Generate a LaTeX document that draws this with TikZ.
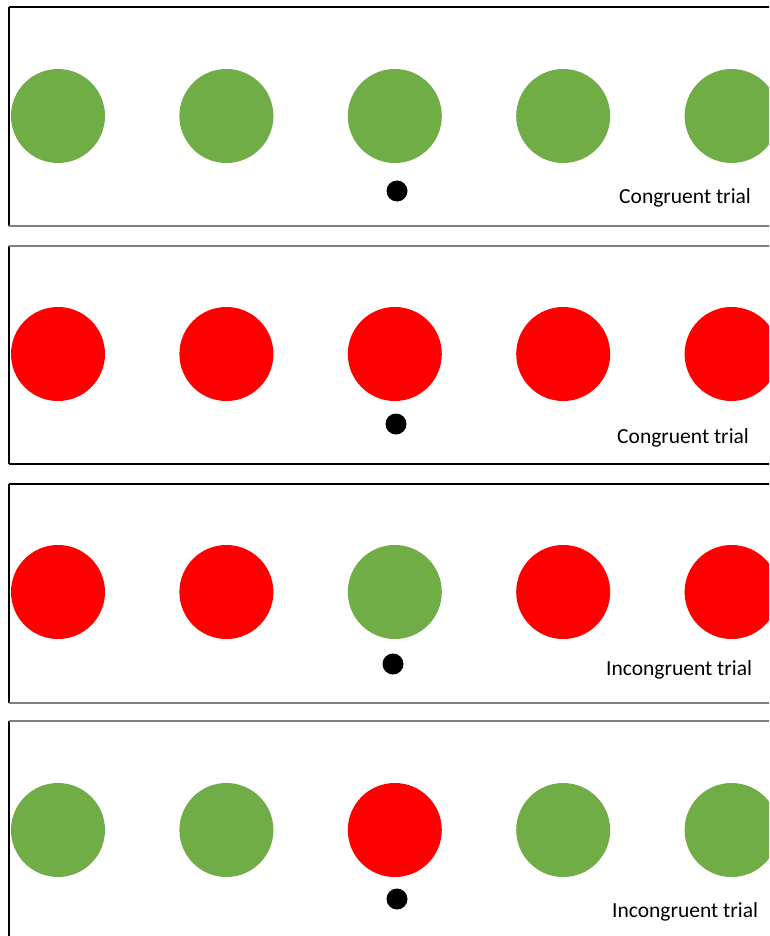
\documentclass[tikz,border=0pt]{standalone}
\usepackage{fontspec}
\setmainfont{Carlito}
\usetikzlibrary{positioning}
\definecolor{clrgreen}{HTML}{70AD47}
\definecolor{clrred}{HTML}{FF0000}
\definecolor{clrframe}{HTML}{7F7F7F}
\begin{document}
\begin{tikzpicture}[
    x=1pt, y=-1pt,
    disc/.style={circle, inner sep=0, minimum size=94pt},
    fixdot/.style={circle, fill=black, inner sep=0, minimum size=21pt},
    triallabel/.style={anchor=base west, inner sep=0, font=\fontsize{21.5}{26}\selectfont},
    frameline/.style={line width=1.3pt, color=black},
    frameshade/.style={line width=1.3pt, color=clrframe},
]
\useasboundingbox (0,0) rectangle (769,936);
\fill[white] (0,0) rectangle (769,936);
\clip (0,0) rectangle (769,936);
% panel 1
\draw[frameline] (9,7) -- (9,226);
\draw[frameline] (9,7) -- (780,7);
\draw[frameshade] (9,226) -- (780,226);
\node[disc, fill=clrgreen] (n_1_1) at (58,116) {};
\node[disc, fill=clrgreen, right=74pt of n_1_1] (n_1_2) {};
\node[disc, fill=clrgreen, right=74pt of n_1_2] (n_1_3) {};
\node[disc, fill=clrgreen, right=74pt of n_1_3] (n_1_4) {};
\node[disc, fill=clrgreen, right=74pt of n_1_4] (n_1_5) {};
\node[fixdot] (d_1) at (397,191) {};
\node[triallabel] (t_1) at (619,203) {Congruent trial};
% panel 2
\draw[frameline] (9,246) -- (9,464);
\draw[frameshade] (9,246) -- (780,246);
\draw[frameline] (9,464) -- (780,464);
\node[disc, fill=clrred] (n_2_1) at (58,354) {};
\node[disc, fill=clrred, right=74pt of n_2_1] (n_2_2) {};
\node[disc, fill=clrred, right=74pt of n_2_2] (n_2_3) {};
\node[disc, fill=clrred, right=74pt of n_2_3] (n_2_4) {};
\node[disc, fill=clrred, right=74pt of n_2_4] (n_2_5) {};
\node[fixdot] (d_2) at (396,424) {};
\node[triallabel] (t_2) at (617,443) {Congruent trial};
% panel 3
\draw[frameline] (9,484) -- (9,703);
\draw[frameline] (9,484) -- (780,484);
\draw[frameshade] (9,703) -- (780,703);
\node[disc, fill=clrred] (n_3_1) at (58,592) {};
\node[disc, fill=clrred, right=74pt of n_3_1] (n_3_2) {};
\node[disc, fill=clrgreen, right=74pt of n_3_2] (n_3_3) {};
\node[disc, fill=clrred, right=74pt of n_3_3] (n_3_4) {};
\node[disc, fill=clrred, right=74pt of n_3_4] (n_3_5) {};
\node[fixdot] (d_3) at (393,664) {};
\node[triallabel] (t_3) at (606,675) {Incongruent trial};
% panel 4
\draw[frameline] (9,721) -- (9,940);
\draw[frameshade] (9,721) -- (780,721);
\node[disc, fill=clrgreen] (n_4_1) at (58,830) {};
\node[disc, fill=clrgreen, right=74pt of n_4_1] (n_4_2) {};
\node[disc, fill=clrred, right=74pt of n_4_2] (n_4_3) {};
\node[disc, fill=clrgreen, right=74pt of n_4_3] (n_4_4) {};
\node[disc, fill=clrgreen, right=74pt of n_4_4] (n_4_5) {};
\node[fixdot] (d_4) at (397,899) {};
\node[triallabel] (t_4) at (612,917) {Incongruent trial};
\end{tikzpicture}
\end{document}
